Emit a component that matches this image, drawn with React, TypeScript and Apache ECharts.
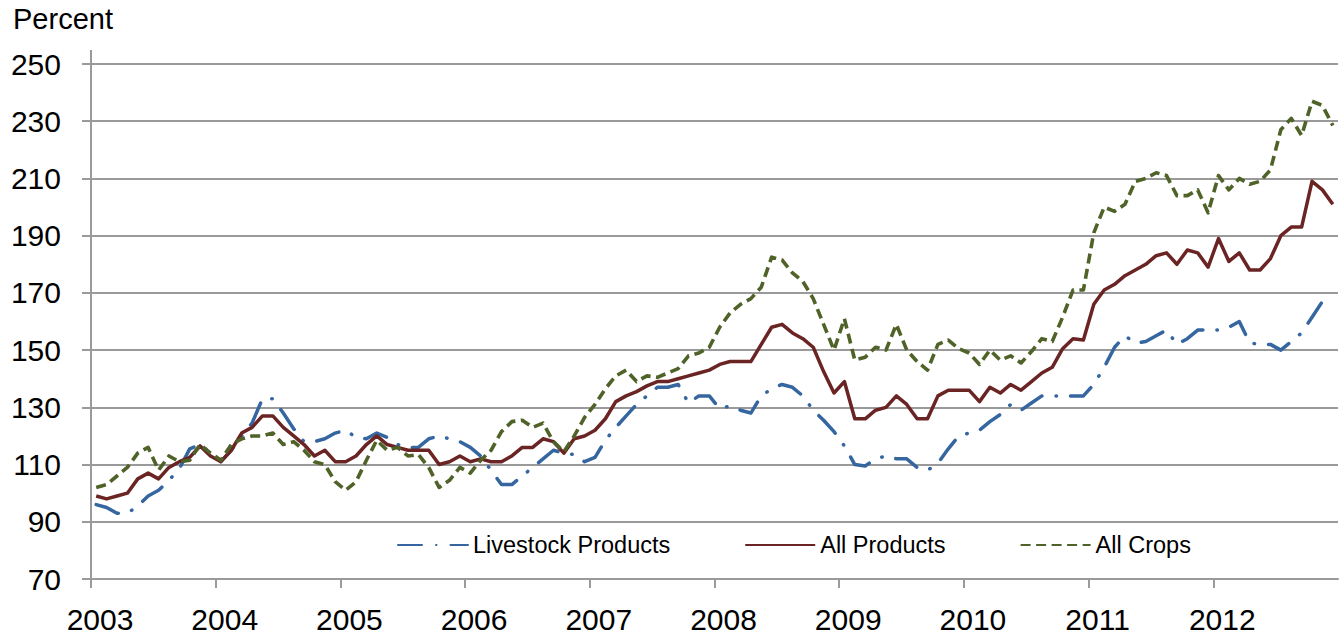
import React, { useEffect, useRef } from "react";
import * as echarts from "echarts";

const years = [2003, 2004, 2005, 2006, 2007, 2008, 2009, 2010, 2011, 2012];
const seriesNames = ["Livestock Products", "All Products", "All Crops"];

const livestockProducts = [
  96, 95, 93, 93, 95.5, 99, 101, 104.5, 108.5, 115.5, 117, 114,
  111, 115, 120, 124.5, 133, 133, 128, 122.5, 118, 118, 119, 121,
  122, 119.5, 119, 121, 119.5, 117, 116, 116, 119, 120, 119, 118,
  116, 113, 108, 103, 103, 106, 109, 112, 115, 114, 113.5, 111,
  112.5, 118.5, 123, 127, 131, 134, 137, 137, 138, 131.5, 134, 134,
  129.5, 130.5, 129, 128, 134, 136.5, 138, 137, 134, 129, 125.5, 121.5,
  116.5, 110, 109.5, 112, 113, 112, 112, 109, 108, 110.5, 115.5, 120,
  121, 122, 125, 127.5, 131, 129, 131.5, 134, 134, 134, 134, 134,
  138, 144, 151, 155, 152.5, 153, 155, 157, 152, 154, 157, 157,
  157, 158, 160, 152.5, 152, 152, 150, 153, 156, 161.5, 167, 168.5,
];

const allProducts = [
  99, 98, 99, 100, 105, 107, 105, 109, 111, 112.5, 116.5, 113,
  111, 115, 121, 123, 127, 127, 123, 120, 117, 113, 115, 111,
  111, 113, 117, 120, 117, 116, 115, 115, 115, 110, 111, 113,
  111, 112, 111, 111, 113, 116, 116, 119, 118, 114, 119, 120,
  122, 126, 132, 134, 135.5, 137.5, 139, 139, 140, 141, 142, 143,
  145, 146, 146, 146, 152, 158, 159, 156, 154, 151, 142.5, 135,
  139, 126, 126, 129, 130, 134, 131, 126, 126, 134, 136, 136,
  136, 132, 137, 135, 138, 136, 139, 142, 144, 150.5, 154, 153.5,
  166, 171, 173, 176, 178, 180, 183, 184, 180, 185, 184, 179,
  189, 181, 184, 178, 178, 182, 190, 193, 193, 209, 206, 201,
];

const allCrops = [
  102, 103, 106, 109, 114, 116, 108, 113, 111, 111.5, 117, 114,
  111.5, 117, 119, 120, 120, 121, 117, 118, 115, 111, 110, 104,
  101, 104, 111.5, 118.5, 115, 116, 113, 113.5, 109, 102, 104.5, 109,
  107, 111.5, 115, 121.5, 125, 125.5, 123, 124.5, 118, 114.5, 120, 126.5,
  131, 136.5, 141, 143, 139, 141, 140.5, 142, 143.5, 148, 149, 151,
  158, 163, 166, 168, 172, 182.5, 181.5, 177, 174, 168, 159, 150,
  161, 146.5, 147.5, 151, 150, 159, 150, 146, 143, 152, 153.5, 150.5,
  149, 145, 150, 146.5, 148, 145.5, 149.5, 154, 153, 161.5, 171, 171,
  191, 200, 198.5, 201, 209, 210, 212, 211, 204, 204, 206, 198,
  211, 206, 210, 208, 209, 213, 227, 231, 225, 237, 235.5, 228.5,
];

const FONT = "'Liberation Sans', Arial, sans-serif";
const GRID_COLOR = "#9a9a9a";

// monthly values plotted at mid-month on a month-index axis (0 = Jan 2003)
const toPoints = (vals: number[]) => vals.map((v, i) => [i + 0.5, v]);

export default function App() {
  const ref = useRef<HTMLDivElement>(null);

  useEffect(() => {
    if (!ref.current) return;
    const chart = echarts.init(ref.current, null, { renderer: "svg" });
    chart.setOption({
      animation: false,
      backgroundColor: "#ffffff",
      title: {
        text: "Percent",
        left: 13,
        top: 4,
        padding: 0,
        textStyle: { fontFamily: FONT, fontSize: 29, fontWeight: "normal", color: "#000" },
      },
      grid: { left: 91, right: 2, top: 64, bottom: 56, containLabel: false },
      legend: {
        left: 392,
        top: 526,
        itemWidth: 70,
        itemHeight: 14,
        itemGap: 74,
        data: seriesNames,
        itemStyle: { opacity: 0 },
        textStyle: { fontFamily: FONT, fontSize: 23.5, color: "#000", lineHeight: 28 },
      },
      xAxis: {
        type: "value",
        min: 0,
        max: 120,
        interval: 12,
        axisLine: { show: true, lineStyle: { color: GRID_COLOR, width: 2 } },
        axisTick: { show: true, length: 9, lineStyle: { color: GRID_COLOR, width: 2 } },
        splitLine: { show: false },
        axisLabel: {
          margin: 25,
          fontFamily: FONT,
          fontSize: 30,
          color: "#000",
          padding: [0, 0, 0, 18],
          showMaxLabel: false,
          formatter: (v: number) => {
            const idx = Math.round(v / 12);
            return idx < years.length ? String(years[idx]) : "";
          },
        },
      },
      yAxis: {
        type: "value",
        min: 70,
        max: 250,
        interval: 20,
        axisLine: { show: true, lineStyle: { color: GRID_COLOR, width: 2 } },
        axisTick: { show: true, length: 9, lineStyle: { color: GRID_COLOR, width: 2 } },
        splitLine: { show: true, lineStyle: { color: GRID_COLOR, width: 2 } },
        axisLabel: { margin: 30, fontFamily: FONT, fontSize: 30, color: "#000" },
      },
      graphic: [
        {
          type: "line",
          shape: { x1: 91, y1: 50, x2: 91, y2: 65 },
          style: { stroke: GRID_COLOR, lineWidth: 2 },
          silent: true,
        },
      ],
      series: [
        {
          name: seriesNames[0],
          type: "line",
          data: toPoints(livestockProducts),
          showSymbol: false,
          symbol: "none",
          color: "#3566A0",
          lineStyle: { color: "#3566A0", width: 3.5, type: [24, 14, 0.5, 14], cap: "round", join: "round" },
          z: 2,
        },
        {
          name: seriesNames[1],
          type: "line",
          data: toPoints(allProducts),
          showSymbol: false,
          symbol: "none",
          color: "#6B2424",
          lineStyle: { color: "#6B2424", width: 3.5, type: "solid", join: "round" },
          z: 3,
        },
        {
          name: seriesNames[2],
          type: "line",
          data: toPoints(allCrops),
          showSymbol: false,
          symbol: "none",
          color: "#4F6228",
          lineStyle: { color: "#4F6228", width: 3.6, type: [10, 5.5], cap: "butt", join: "round" },
          z: 4,
        },
      ],
    });
    return () => chart.dispose();
  }, []);

  return (
    <div
      ref={ref}
      style={{ position: "absolute", left: 0, top: 0, width: 1340, height: 635, background: "#fff" }}
    />
  );
}
